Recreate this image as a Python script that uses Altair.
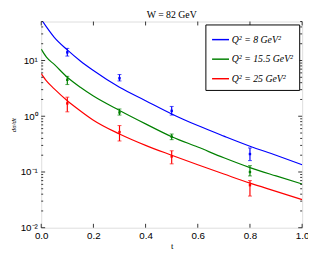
import altair as alt
import pandas as pd

# ---- data ----
t_curve = [0, 0.02, 0.05, 0.1, 0.15, 0.2, 0.3, 0.4, 0.5, 0.6, 0.7, 0.8, 0.9, 1.0]
blue_curve = [55, 40, 26, 15.5, 9.8, 6.6, 3.3, 1.9, 1.1, 0.68, 0.44, 0.29, 0.2, 0.135]
green_curve = [16, 11.5, 8.5, 5.0, 3.3, 2.3, 1.27, 0.73, 0.43, 0.28, 0.18, 0.12, 0.085, 0.061]
red_curve = [5.8, 4.3, 3.1, 1.9, 1.25, 0.85, 0.48, 0.3, 0.2, 0.135, 0.092, 0.063, 0.045, 0.032]

t_points = [0.1, 0.3, 0.5, 0.8]
blue_pts = [14, 4.8, 1.25, 0.21]
blue_lo = [12, 4.3, 1.05, 0.16]
blue_hi = [16.5, 5.6, 1.5, 0.27]
green_pts = [4.5, 1.17, 0.43, 0.10]
green_lo = [3.7, 1.05, 0.38, 0.085]
green_hi = [5.2, 1.35, 0.48, 0.13]
red_pts = [1.7, 0.52, 0.19, 0.058]
red_lo = [1.2, 0.36, 0.14, 0.037]
red_hi = [2.2, 0.68, 0.24, 0.07]

series = ["Q² = 8 GeV²", "Q² = 15.5 GeV²", "Q² = 25 GeV²"]
colors = ["#0000FF", "#008000", "#FF0000"]

x_ticks = [0, 0.2, 0.4, 0.6, 0.8, 1.0]
y_major = [0.01, 0.1, 1, 10]
y_minor = [m * d for d in [0.01, 0.1, 1, 10] for m in range(2, 10) if m * d <= 50]

W, H = 267, 211

curves = pd.DataFrame(
    [{"t": t, "v": v, "s": series[0]} for t, v in zip(t_curve, blue_curve)]
    + [{"t": t, "v": v, "s": series[1]} for t, v in zip(t_curve, green_curve)]
    + [{"t": t, "v": v, "s": series[2]} for t, v in zip(t_curve, red_curve)]
)
rows = []
for s, p, lo, hi in [(series[0], blue_pts, blue_lo, blue_hi),
                     (series[1], green_pts, green_lo, green_hi),
                     (series[2], red_pts, red_lo, red_hi)]:
    for t, a, b, c in zip(t_points, p, lo, hi):
        rows.append({"t": t, "v": a, "lo": b, "hi": c, "s": s})
pts = pd.DataFrame(rows)

xs = alt.Scale(domain=[0, 1], nice=False)
ys = alt.Scale(type="log", domain=[0.01, 50], nice=False)
cs = alt.Scale(domain=series, range=colors)

label_expr = ("datum.value == 10 ? '10¹' : datum.value == 1 ? '10⁰' : "
              "datum.value == 0.1 ? '10⁻¹' : datum.value == 0.01 ? '10⁻²' : ''")

lines = alt.Chart(curves).mark_line(strokeWidth=1.2, clip=True, interpolate="monotone").encode(
    x=alt.X("t:Q", scale=xs, title="t",
            axis=alt.Axis(values=x_ticks, ticks=False, domain=False, grid=False,
                          labelPadding=3, labelFontSize=10, labelFont="Liberation Sans",
                          labelColor="black", titleFont="Liberation Serif", titleFontSize=9,
                          titleFontWeight="normal", titlePadding=1, titleColor="black",
                          labelFlush=False)),
    y=alt.Y("v:Q", scale=ys, title="dσ/dt",
            axis=alt.Axis(values=y_major, ticks=False, domain=False, grid=False,
                          labelExpr=label_expr, labelPadding=4, labelFontSize=10,
                          labelFont="Liberation Sans", labelColor="black",
                          titleFont="Liberation Serif", titleFontSize=7,
                          titleFontStyle="italic", titleFontWeight="normal",
                          titlePadding=4, titleColor="black")),
    color=alt.Color("s:N", scale=cs, sort=series,
                    legend=alt.Legend(title=None, orient="top-right", offset=3,
                                      symbolType="stroke", symbolSize=300,
                                      symbolStrokeWidth=1.5,
                                      labelFont="Liberation Serif", labelFontSize=10,
                                      labelFontStyle="italic", labelColor="black",
                                      strokeColor="black", fillColor="white",
                                      padding=6, rowPadding=5, labelOffset=2,
                                      cornerRadius=0)),
)

bars = alt.Chart(pts).mark_rule(strokeWidth=1.2).encode(
    x=alt.X("t:Q", scale=xs), y=alt.Y("lo:Q", scale=ys), y2="hi:Q",
    color=alt.Color("s:N", scale=cs, legend=None),
)
cap_lo = alt.Chart(pts).mark_tick(size=4, thickness=1, orient="horizontal").encode(
    x=alt.X("t:Q", scale=xs), y=alt.Y("lo:Q", scale=ys),
    color=alt.Color("s:N", scale=cs, legend=None),
)
cap_hi = alt.Chart(pts).mark_tick(size=4, thickness=1, orient="horizontal").encode(
    x=alt.X("t:Q", scale=xs), y=alt.Y("hi:Q", scale=ys),
    color=alt.Color("s:N", scale=cs, legend=None),
)
dots = alt.Chart(pts).mark_square(size=6, opacity=1).encode(
    x=alt.X("t:Q", scale=xs), y=alt.Y("v:Q", scale=ys),
    color=alt.Color("s:N", scale=cs, legend=None),
)

# tick marks drawn inside the frame (MATLAB style)
xt = pd.DataFrame({"t": x_ticks})
ymj = pd.DataFrame({"v": y_major})
ymn = pd.DataFrame({"v": y_minor})
tick_layers = [
    alt.Chart(xt).mark_rule(color="black", strokeWidth=0.8).encode(
        x=alt.X("t:Q", scale=xs), y=alt.value(H), y2=alt.value(H - 4)),
    alt.Chart(xt).mark_rule(color="black", strokeWidth=0.8).encode(
        x=alt.X("t:Q", scale=xs), y=alt.value(0), y2=alt.value(4)),
    alt.Chart(ymj).mark_rule(color="black", strokeWidth=0.8).encode(
        y=alt.Y("v:Q", scale=ys), x=alt.value(0), x2=alt.value(4)),
    alt.Chart(ymj).mark_rule(color="black", strokeWidth=0.8).encode(
        y=alt.Y("v:Q", scale=ys), x=alt.value(W), x2=alt.value(W - 4)),
    alt.Chart(ymn).mark_rule(color="black", strokeWidth=0.8).encode(
        y=alt.Y("v:Q", scale=ys), x=alt.value(0), x2=alt.value(2)),
    alt.Chart(ymn).mark_rule(color="black", strokeWidth=0.8).encode(
        y=alt.Y("v:Q", scale=ys), x=alt.value(W), x2=alt.value(W - 2)),
]

chart = alt.layer(lines, bars, cap_lo, cap_hi, dots, *tick_layers).properties(
    width=W, height=H,
    title=alt.TitleParams("W = 82 GeV", font="Liberation Serif", fontSize=10,
                          fontWeight="normal", color="black", offset=1),
    autosize=alt.AutoSizeParams(type="none"),
    padding={"left": 34, "top": 11, "right": 6, "bottom": 23},
).configure_view(stroke="black", strokeWidth=1).configure(background="white")

chart.save("out.html", embed_options={"renderer": "svg", "actions": False})
